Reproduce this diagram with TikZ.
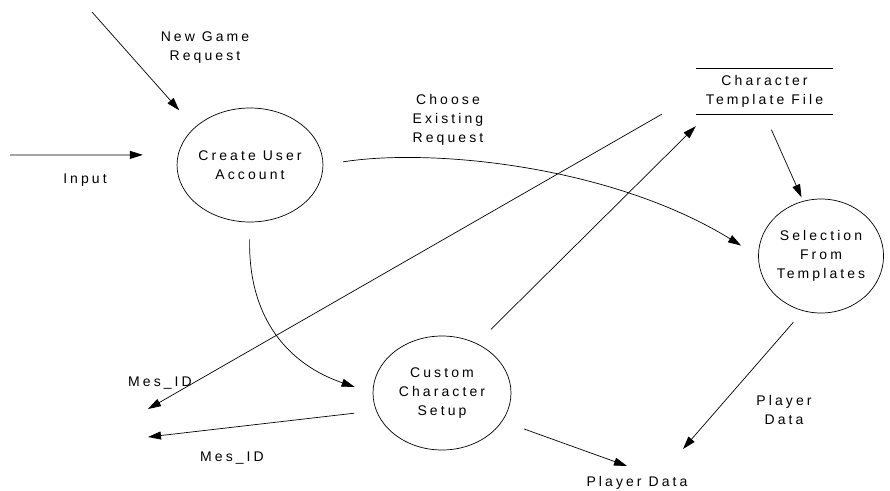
\documentclass[tikz,border=0pt]{standalone}
\usepackage{fontspec}
\setmainfont[LetterSpace=22]{Liberation Sans}
\usepackage{tikz}
\usetikzlibrary{positioning, shapes.geometric, arrows.meta}
\tikzstyle{label} = [text centered, align=center]
\tikzstyle{arrow} = [line width=0.7pt, -{Triangle[length=13pt,width=8pt]}]

\begin{document}
\begin{tikzpicture}[x=1pt, y=-1pt, font=\fontsize{14}{19}\selectfont,
process/.style={ellipse, draw=black, line width=0.7pt, minimum width=138pt, minimum height=114pt, inner sep=0pt, align=center},
store/.style={rectangle, minimum width=137pt, minimum height=45pt, inner sep=0pt, align=center}
]
\useasboundingbox (0,0) rectangle (890,490);
\node[process] (create) at (250,165) {Create User\\Account};
\node[process] (custom) at (442,393) {Custom\\Character\\Setup};
\node[process, minimum width=114pt] (select) at (821,256) {Selection\\From\\Templates};
\node[store] (tfile) at (764.5,91.5) {Character\\Template File};
\draw[line width=0.7pt] (tfile.north west) -- (tfile.north east);
\draw[line width=0.7pt] (tfile.south west) -- (tfile.south east);

\node[label] (input) at (85,180) {Input};
\node[label] (newgame) at (205,48) {New Game\\Request};
\node[label] (choose) at (448,120) {Choose\\Existing\\Request};
\node[label] (mes1) at (160,383) {Mes\_ID};
\node[label] (mes2) at (232,458) {Mes\_ID};
\node[label] (pdata1) at (784,410) {Player\\Data};
\node[label] (pdata2) at (637,483) {Player Data};

\coordinate (inA) at (10,155);
\coordinate (ngA) at (92,12);
\coordinate (mesA) at (148,409);
\coordinate (mesB) at (148,437);
\coordinate (pdA) at (627,466);
\coordinate (pdB) at (683,449);

\draw[arrow, shorten >=35pt] (inA) -- (create.172);
\draw[arrow, shorten >=23pt] (ngA) -- (create.146);
\draw[arrow, shorten <=20pt, shorten >=20pt] (create.east) .. controls (430,148) and (610,165) .. (select.west);
\draw[arrow, shorten <=17pt, shorten >=19pt] (create.south) .. controls (248,320) and (290,365) .. (custom.west);
\draw[arrow] ([xshift=-34pt]tfile.south west) -- (mesA);
\draw[arrow, shorten <=20pt] (custom.55) -- ([yshift=-12pt]tfile.south west);
\draw[arrow, shorten <=17pt, shorten >=4pt] (tfile.south) -- (select.108);
\draw[arrow, shorten <=22pt] (custom.195) -- (mesB);
\draw[arrow, shorten <=23pt] (custom.-25) -- (pdA);
\draw[arrow, shorten <=15pt] (select.252) -- (pdB);
\end{tikzpicture}
\end{document}
